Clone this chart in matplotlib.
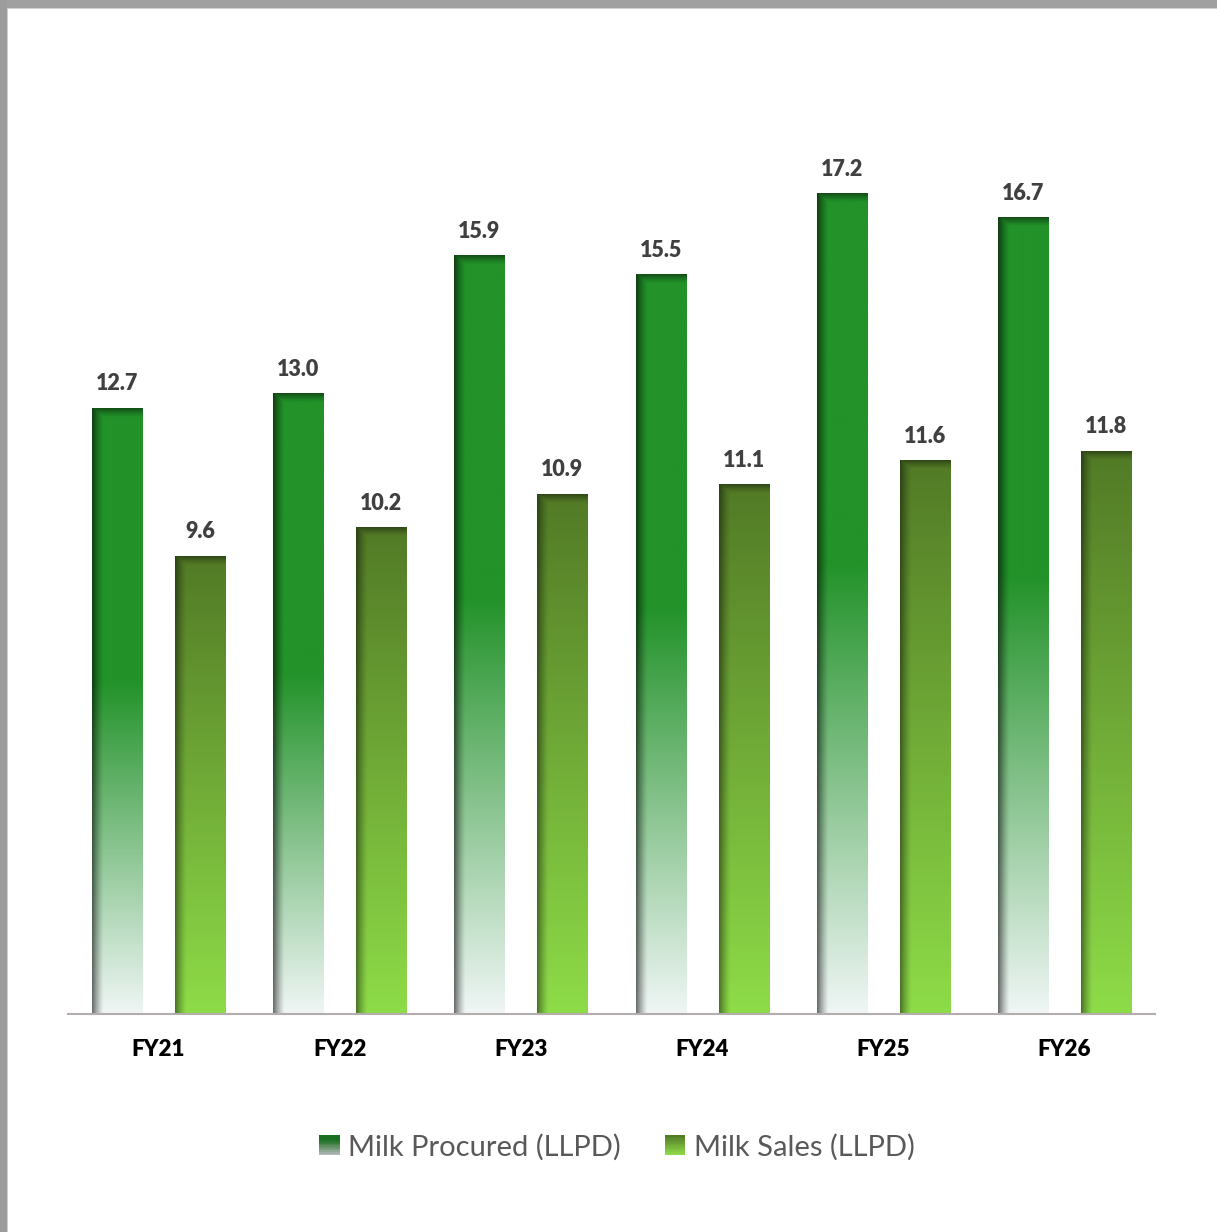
import numpy as np
import matplotlib
matplotlib.use('Agg')
import matplotlib.pyplot as plt
from matplotlib.patches import Rectangle
from matplotlib.legend_handler import HandlerBase

# Datos de leche (LLPD) por año fiscal
years = ['FY21', 'FY22', 'FY23', 'FY24', 'FY25', 'FY26']
milk_procured = [12.7, 13.0, 15.9, 15.5, 17.2, 16.7]
milk_sales = [9.6, 10.2, 10.9, 11.1, 11.6, 11.8]
series_names = ['Milk Procured (LLPD)', 'Milk Sales (LLPD)']

plt.rcParams['font.family'] = ['Lato', 'DejaVu Sans']

W, H, DPI = 1217, 1232, 100
fig = plt.figure(figsize=(W / DPI, H / DPI), dpi=DPI)
fig.patch.set_facecolor('white')

PX_PER_UNIT = 47.7
YMAX = 19.0
ax = fig.add_axes([68 / W, (H - 1014) / H, 1087 / W, YMAX * PX_PER_UNIT / H])


def procured_colour(t):
    top = np.array([34, 146, 41]) / 255
    bottom = np.array([240, 246, 246]) / 255
    f = np.clip((t - 0.45) / 0.55, 0, 1)[:, None]
    return top * (1 - f) + bottom * f


def sales_colour(t):
    top = np.array([82, 122, 38]) / 255
    bottom = np.array([142, 220, 72]) / 255
    f = t[:, None]
    return top * (1 - f) + bottom * f


def bar_image(value, colour_fn, side_dark, top_dark):
    ny = max(int(round(value * PX_PER_UNIT)), 2)
    nx = 50
    t = np.linspace(0, 1, ny)
    col = colour_fn(t)                      # (ny, 3)
    img = np.repeat(col[:, None, :], nx, axis=1)
    # sombra interior en el borde izquierdo
    xs = np.arange(nx)
    side = side_dark * np.clip(1 - xs / 11.0, 0, 1) ** 1.3
    # sombra interior en el borde superior
    ys = np.arange(ny)
    top = top_dark * np.clip(1 - ys / 9.0, 0, 1) ** 1.3
    shade = 1 - np.maximum(side[None, :], top[:, None])
    img = img * shade[:, :, None]
    return np.clip(img, 0, 1)


x = np.arange(len(years))
offset = 0.229
width = 0.276

bars_p = ax.bar(x - offset, milk_procured, width, color='none', edgecolor='none')
bars_s = ax.bar(x + offset, milk_sales, width, color='none', edgecolor='none')

for rect, v in zip(bars_p, milk_procured):
    x0 = rect.get_x()
    ax.imshow(bar_image(v, procured_colour, 0.55, 0.45), aspect='auto',
              extent=[x0, x0 + rect.get_width(), 0, rect.get_height()],
              interpolation='bilinear', zorder=2)
for rect, v in zip(bars_s, milk_sales):
    x0 = rect.get_x()
    ax.imshow(bar_image(v, sales_colour, 0.45, 0.4), aspect='auto',
              extent=[x0, x0 + rect.get_width(), 0, rect.get_height()],
              interpolation='bilinear', zorder=2)

# etiquetas de valor
for bars, vals in ((bars_p, milk_procured), (bars_s, milk_sales)):
    for rect, v in zip(bars, vals):
        ax.annotate(f'{v:.1f}', (rect.get_x() + rect.get_width() / 2, v),
                    xytext=(0, 10), textcoords='offset points',
                    ha='center', va='bottom', fontsize=15.5,
                    fontweight='heavy', color='#404040')

ax.set_xlim(-0.5, len(years) - 0.5)
ax.set_ylim(0, YMAX)
ax.set_xticks(x, years, fontsize=16, fontweight='heavy', color='black')
ax.tick_params(axis='x', length=0, pad=18)
ax.set_yticks([])
for s in ('top', 'right', 'left'):
    ax.spines[s].set_visible(False)
ax.spines['bottom'].set_color('#b3adae')
ax.spines['bottom'].set_linewidth(1.5)
ax.set_facecolor('none')


# leyenda con cuadros degradados
class GradientHandler(HandlerBase):
    def __init__(self, colour_fn):
        super().__init__()
        self.colour_fn = colour_fn

    def create_artists(self, legend, orig_handle, xdescent, ydescent,
                       width, height, fontsize, trans):
        n = 12
        side = height * 1.0
        y0 = -ydescent + (height - side) / 2
        x0 = -xdescent + (width - side) / 2
        cols = self.colour_fn(np.linspace(0, 1, n))
        arts = []
        for i in range(n):
            arts.append(Rectangle((x0, y0 + side * (n - 1 - i) / n), side, side / n,
                                  facecolor=cols[i], edgecolor='none', transform=trans))
        return arts


h1 = Rectangle((0, 0), 1, 1)
h2 = Rectangle((0, 0), 1, 1)
fig.legend([h1, h2], series_names, loc='center', ncol=2, frameon=False,
           bbox_to_anchor=(617 / W, (H - 1147) / H), fontsize=21,
           labelcolor='#595959', handlelength=0.7, handletextpad=0.3,
           columnspacing=1.5,
           handler_map={h1: GradientHandler(lambda t: procured_colour(0.3 + 0.7 * t) * 0.75),
                        h2: GradientHandler(sales_colour)})

# marco gris superior e izquierdo
fig.patches.append(Rectangle((0, (H - 8) / H), 1, 8 / H, transform=fig.transFigure,
                             facecolor='#a0a0a0', edgecolor='none'))
fig.patches.append(Rectangle((0, (H - 9) / H), 1, 1 / H, transform=fig.transFigure,
                             facecolor='#d0d0d0', edgecolor='none'))
fig.patches.append(Rectangle((0, 0), 7 / W, 1, transform=fig.transFigure,
                             facecolor='#9c9c9c', edgecolor='none'))
fig.patches.append(Rectangle((7 / W, 0), 1 / W, (H - 8) / H, transform=fig.transFigure,
                             facecolor='#cfcfcf', edgecolor='none'))

plt.savefig('out.png', dpi=DPI)
